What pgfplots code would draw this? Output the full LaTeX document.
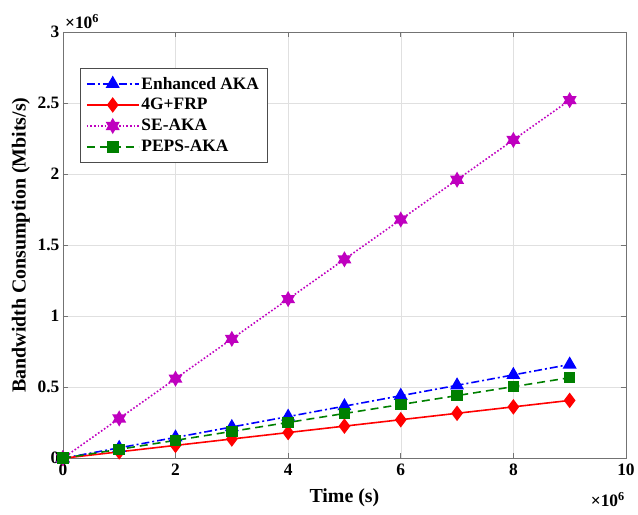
\documentclass[border=0pt]{standalone}
\usepackage{fontspec}
\setmainfont{Liberation Serif}
\usepackage{pgfplots}
\pgfplotsset{compat=1.18}
\definecolor{mgreen}{rgb}{0,0.5,0}
\definecolor{mmag}{rgb}{0.75,0,0.75}
\definecolor{axgray}{rgb}{0.45,0.45,0.45}
\pgfdeclareplotmark{hexstar}{%
  \pgfpathmoveto{\pgfqpointpolar{90}{\pgfplotmarksize}}%
  \pgfpathlineto{\pgfqpointpolar{210}{\pgfplotmarksize}}%
  \pgfpathlineto{\pgfqpointpolar{330}{\pgfplotmarksize}}%
  \pgfpathclose
  \pgfpathmoveto{\pgfqpointpolar{270}{\pgfplotmarksize}}%
  \pgfpathlineto{\pgfqpointpolar{30}{\pgfplotmarksize}}%
  \pgfpathlineto{\pgfqpointpolar{150}{\pgfplotmarksize}}%
  \pgfpathclose
  \pgfusepathqfillstroke}
\begin{document}
\begin{tikzpicture}
\begin{axis}[
  width=564bp, height=427bp, scale only axis,
  xmin=0, xmax=10, ymin=0, ymax=3,
  xtick={0,2,4,6,8,10},
  ytick={0,0.5,1,1.5,2,2.5,3},
  yticklabels={0,0.5,1,1.5,2,2.5,3},
  grid=major,
  grid style={black!12, line width=0.5bp},
  axis line style={axgray, line width=0.6bp},
  tick style={axgray, line width=0.6bp},
  major tick length=5bp,
  font=\fontsize{17.5}{20}\selectfont\bfseries,
  tick label style={font=\fontsize{17.5}{20}\selectfont\bfseries},
  xticklabel style={yshift=-2bp},
  /pgf/number format/assume math mode=true,
  xlabel={Time (s)},
  ylabel={Bandwidth Consumption (Mbits/s)},
  label style={font=\fontsize{20}{22}\selectfont\bfseries},
  xlabel style={at={(rel axis cs:0.5,-0.0937)}, anchor=center},
  ylabel style={at={(rel axis cs:-0.0745,0.5)}, anchor=center},
  clip=false,
  legend style={at={(0.03,0.916)}, anchor=north west,
    draw=black!70, fill=white,
    font=\fontsize{17.5}{20}\selectfont\bfseries,
    row sep=4bp, inner xsep=6bp, inner ysep=7bp},
  legend cell align=left,
  legend image code/.code={%
    \draw[line width=1.6bp, mark repeat=2,mark phase=2] plot coordinates {(0bp,0bp) (26bp,0bp) (52bp,0bp)};},
]
\addplot[blue, line width=1.6bp, dash pattern=on 8bp off 3bp on 2bp off 3bp,
  mark=triangle*, mark size=6.5bp, mark options={solid, fill=blue}]
  coordinates {(0,0) (1,0.0733) (2,0.1466) (3,0.22) (4,0.2932) (5,0.3666) (6,0.44) (7,0.5132) (8,0.5866) (9,0.66)};
\addlegendentry{Enhanced AKA}
\addplot[red, line width=1.6bp, mark=diamond*, mark size=6.5bp, mark options={solid, fill=red}]
  coordinates {(0,0) (1,0.0452) (2,0.0904) (3,0.1356) (4,0.1808) (5,0.226) (6,0.2712) (7,0.3164) (8,0.3616) (9,0.407)};
\addlegendentry{4G+FRP}
\addplot[mmag, line width=1.6bp, dash pattern=on 1.6bp off 2bp,
  mark=hexstar, mark size=6.5bp, mark options={solid, fill=mmag}]
  coordinates {(0,0) (1,0.28) (2,0.56) (3,0.84) (4,1.12) (5,1.40) (6,1.68) (7,1.96) (8,2.24) (9,2.52)};
\addlegendentry{SE-AKA}
\addplot[mgreen, line width=1.6bp, dash pattern=on 8bp off 5bp,
  mark=square*, mark size=5bp, mark options={solid, fill=mgreen}]
  coordinates {(0,0) (1,0.063) (2,0.126) (3,0.189) (4,0.252) (5,0.315) (6,0.378) (7,0.441) (8,0.504) (9,0.567)};
\addlegendentry{PEPS-AKA}
\node[anchor=south west, inner sep=1bp, font=\fontsize{17.5}{20}\selectfont\bfseries]
  at ([xshift=1bp,yshift=2bp]rel axis cs:0,1) {×10\textsuperscript{6}};
\node[anchor=north east, inner sep=1bp, font=\fontsize{17.5}{20}\selectfont\bfseries]
  at ([yshift=-33bp]rel axis cs:1,0) {×10\textsuperscript{6}};
\path ([xshift=-63bp,yshift=-56bp]rel axis cs:0,0) ([xshift=11bp,yshift=32bp]rel axis cs:1,1);
\end{axis}
\end{tikzpicture}
\end{document}
